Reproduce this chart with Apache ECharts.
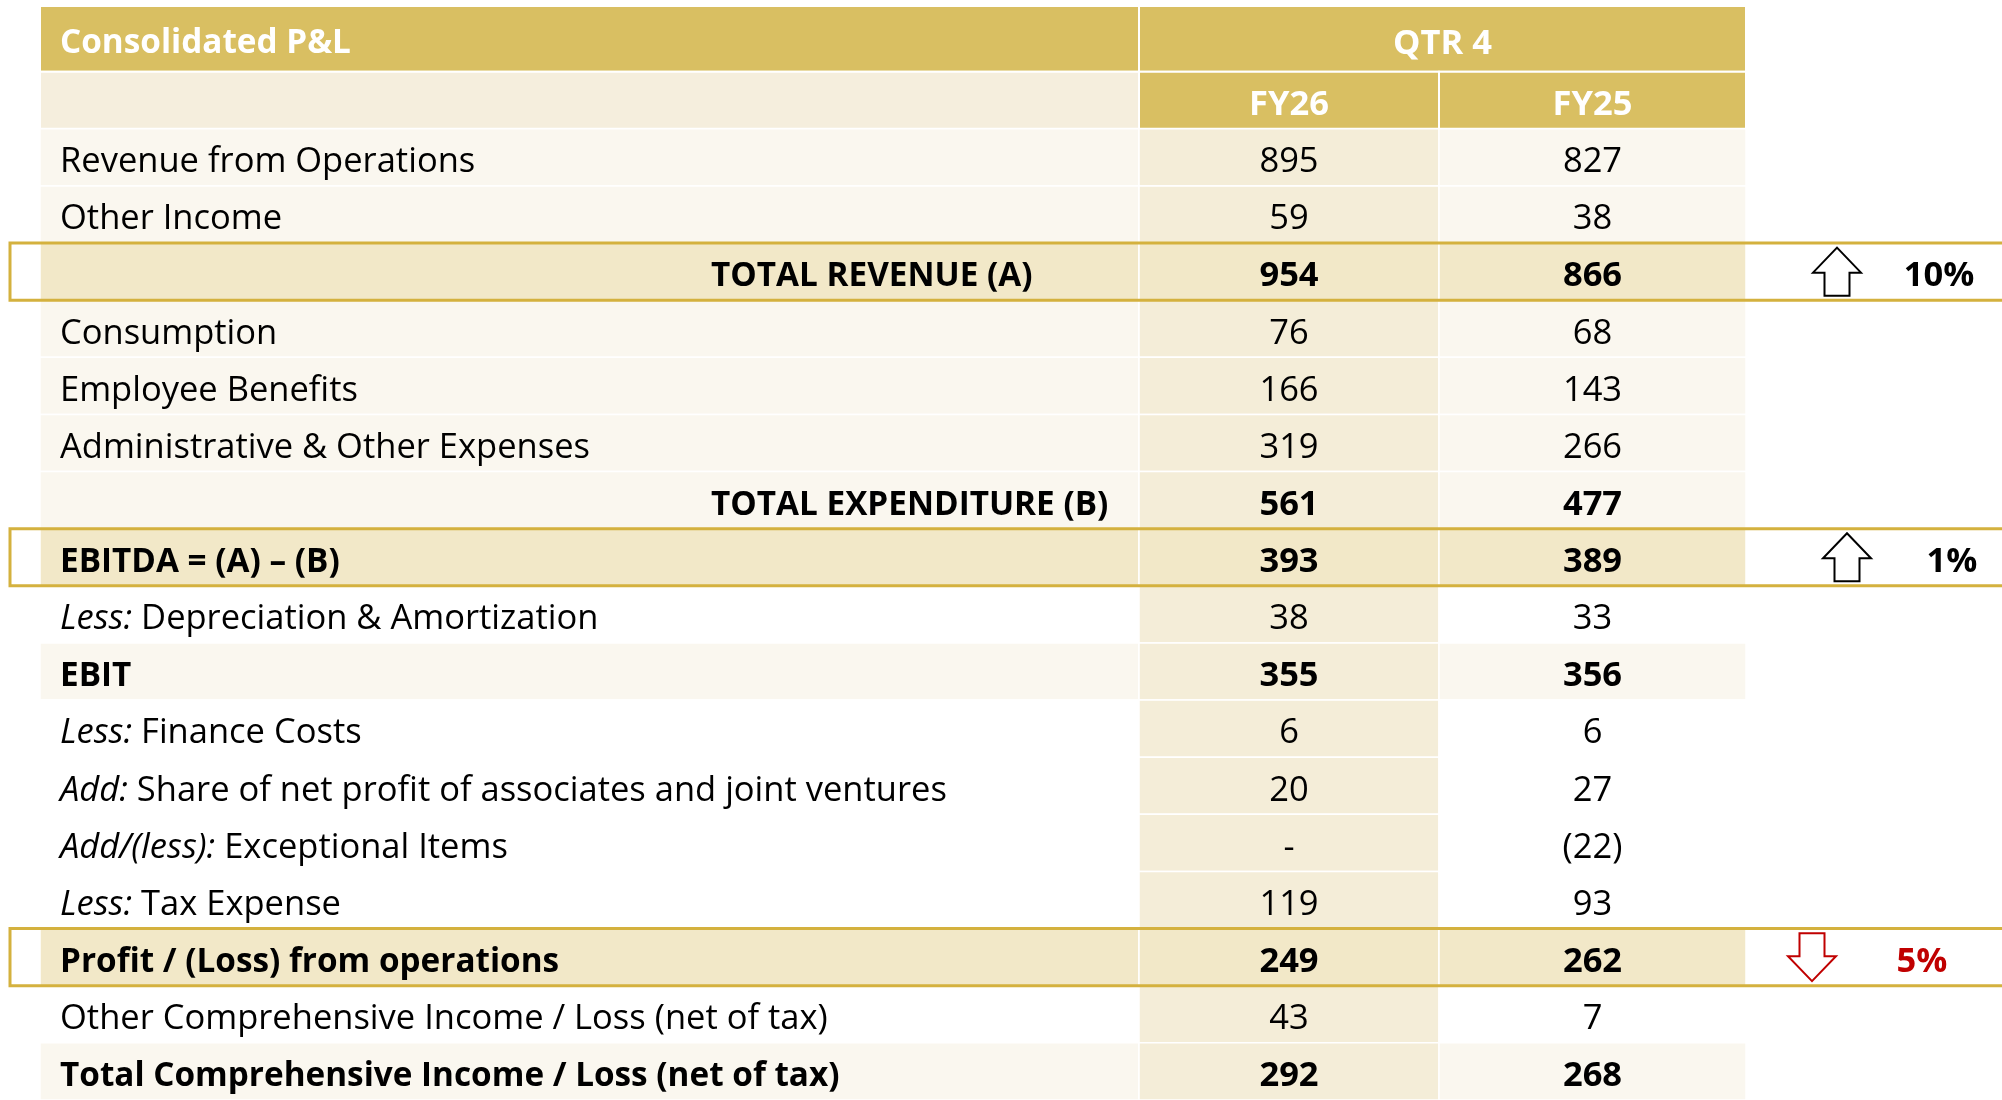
<!DOCTYPE html>
<html>
<head>
<meta charset="utf-8">
<script src="https://cdn.jsdelivr.net/npm/echarts@6/dist/echarts.min.js"></script>
<style>
  html, body { margin: 0; padding: 0; background: #fff; }
  #main { width: 2002px; height: 1100px; }
</style>
</head>
<body>
<div id="main"></div>
<script>
// ---- data ----
const tableTitle = 'Consolidated P&L'
const periodHeader = 'QTR 4'
const yearHeaders = ['FY26', 'FY25']

const rowPrefix = ['', '', '', '', '', '', '', '', 'Less:', '', 'Less:', 'Add:', 'Add/(less):', 'Less:', '', '', '']
const rowLabels = [
  'Revenue from Operations',
  'Other Income',
  'TOTAL REVENUE (A)',
  'Consumption',
  'Employee Benefits',
  'Administrative & Other Expenses',
  'TOTAL EXPENDITURE (B)',
  'EBITDA = (A) \u2013 (B)',
  'Depreciation & Amortization',
  'EBIT',
  'Finance Costs',
  'Share of net profit of associates and joint ventures',
  'Exceptional Items',
  'Tax Expense',
  'Profit / (Loss) from operations',
  'Other Comprehensive Income / Loss (net of tax)',
  'Total Comprehensive Income / Loss (net of tax)'
]
const fy26 = [895, 59, 954, 76, 166, 319, 561, 393, 38, 355, 6, 20, null, 119, 249, 43, 292]
const fy25 = [827, 38, 866, 68, 143, 266, 477, 389, 33, 356, 6, 27, -22, 93, 262, 7, 268]

const changeRows = [2, 7, 14]
const changePct = [10, 1, -5]

// ---- styling / layout ----
const boldRows = [2, 6, 7, 9, 14, 16]
const indentRows = [2, 6]
const shadedRows = [0, 1, 3, 4, 5, 6, 9, 16]
const colEdges = [40, 1139, 1439, 1746]
const labelPad = 20
const indentX = 711
const boxLeft = 10
const boxRight = 2012
const arrowX = [1837, 1847, 1812]
const pctX = [1939, 1952, 1922]
const textDy = 5

const FONT = '"Open Sans", "Noto Sans", sans-serif'
const C = {
  gold: '#D9BF62',
  sub: '#F5EEDD',
  band: '#FAF7EF',
  fyCol: '#F4EDD8',
  hi: '#F2E8C8',
  outline: '#D4B13E',
  red: '#C00000'
}

// fit the font size to the width of a reference label
const ctx = document.createElement('canvas').getContext('2d')
ctx.font = '100px ' + FONT
const FS = Math.round(100 * 415 / ctx.measureText('Revenue from Operations').width * 10) / 10
const FSB = Math.round(FS * 0.966 * 10) / 10

function fmt(v) {
  if (v === null) return '-'
  return v < 0 ? '(' + (-v) + ')' : String(v)
}

function rectOf(api, c0, c1, r0, r1) {
  const p0 = api.coord([colEdges[c0], r0])
  const p1 = api.coord([colEdges[c1], r1])
  return { x: p0[0], y: p0[1], width: p1[0] - p0[0], height: p1[1] - p0[1] }
}

const headerCells = [[0, -2.15, 1, -1], [1, -2.15, 3, -1], [0, -1, 1, 0], [1, -1, 2, 0], [2, -1, 3, 0]]
const headerText = [tableTitle, periodHeader, '', yearHeaders[0], yearHeaders[1]]

function renderHeader(params, api) {
  const i = params.dataIndex
  const h = headerCells[i]
  const rc = rectOf(api, h[0], h[2], h[1], h[3])
  const left = i === 0
  return {
    type: 'group',
    children: [
      { type: 'rect', shape: rc, style: { fill: i === 2 ? C.sub : C.gold, stroke: '#fff', lineWidth: 2 } },
      {
        type: 'text',
        style: {
          x: left ? rc.x + labelPad : rc.x + rc.width / 2,
          y: rc.y + rc.height / 2 + textDy,
          text: headerText[i],
          align: left ? 'left' : 'center',
          verticalAlign: 'middle',
          fontFamily: FONT, fontSize: left ? FSB : FS, fontWeight: 'bold', fill: '#fff'
        }
      }
    ]
  }
}

function renderBody(params, api) {
  const c = api.value(0)
  const r = api.value(1)
  const rc = rectOf(api, c, c + 1, r, r + 1)
  const hi = changeRows.indexOf(r) >= 0
  const fill = hi ? C.hi : c === 1 ? C.fyCol : shadedRows.indexOf(r) >= 0 ? C.band : '#fff'
  const bold = boldRows.indexOf(r) >= 0
  let text, x, align, size = FS
  if (c === 0) {
    text = rowPrefix[r] ? '{i|' + rowPrefix[r] + '} ' + rowLabels[r] : rowLabels[r]
    x = indentRows.indexOf(r) >= 0 ? api.coord([indentX, r])[0] : rc.x + labelPad
    align = 'left'
    if (bold) size = FSB
  } else {
    text = fmt((c === 1 ? fy26 : fy25)[r])
    x = rc.x + rc.width / 2
    align = 'center'
  }
  return {
    type: 'group',
    children: [
      { type: 'rect', shape: rc, style: { fill: fill, stroke: '#fff', lineWidth: 1.5 } },
      {
        type: 'text',
        style: {
          x: x, y: rc.y + rc.height / 2 + textDy, text: text, align: align, verticalAlign: 'middle',
          fontFamily: FONT, fontSize: size, fontWeight: bold ? 'bold' : 'normal', fill: '#000',
          rich: { i: { fontStyle: 'italic', fontFamily: FONT, fontSize: size, fill: '#000' } }
        }
      }
    ]
  }
}

function renderChange(params, api) {
  const i = params.dataIndex
  const r = changeRows[i]
  const p0 = api.coord([boxLeft, r])
  const p1 = api.coord([boxRight, r + 1])
  const cy = (p0[1] + p1[1]) / 2
  const ax = api.coord([arrowX[i], r])[0]
  const tx = api.coord([pctX[i], r])[0]
  const up = changePct[i] >= 0
  const col = up ? '#000' : C.red
  const s = up ? 1 : -1
  const hw = 24, sw = 12.5, hh = 24
  const pts = [
    [ax, cy - s * hh], [ax + hw, cy + s * 1], [ax + sw, cy + s * 1],
    [ax + sw, cy + s * hh], [ax - sw, cy + s * hh], [ax - sw, cy + s * 1], [ax - hw, cy + s * 1]
  ]
  return {
    type: 'group',
    children: [
      { type: 'rect', shape: { x: p0[0], y: p0[1], width: p1[0] - p0[0], height: p1[1] - p0[1] },
        style: { fill: 'none', stroke: C.outline, lineWidth: 3 } },
      { type: 'polygon', shape: { points: pts }, style: { fill: '#fff', stroke: col, lineWidth: 2 } },
      { type: 'text', style: { x: tx, y: cy + textDy, text: Math.abs(changePct[i]) + '%', align: 'center', verticalAlign: 'middle',
          fontFamily: FONT, fontSize: FS, fontWeight: 'bold', fill: col } }
    ]
  }
}

const bodyData = []
rowLabels.forEach(function (_, r) {
  for (let c = 0; c < 3; c++) bodyData.push([c, r])
})

const chart = echarts.init(document.getElementById('main'))
chart.setOption({
  animation: false,
  grid: { left: 0, top: 6, width: 2002, height: 1101 },
  xAxis: { type: 'value', min: 0, max: 2002, show: false },
  yAxis: { type: 'value', min: -2.15, max: 17, inverse: true, show: false },
  series: [
    { type: 'custom', renderItem: renderHeader, data: headerCells.map(function (h) { return [h[0], h[1]] }), z: 1 },
    { type: 'custom', renderItem: renderBody, data: bodyData, z: 2 },
    { type: 'custom', renderItem: renderChange, data: changeRows.map(function (r, i) { return [i, r] }), z: 3 }
  ]
})
</script>
</body>
</html>
